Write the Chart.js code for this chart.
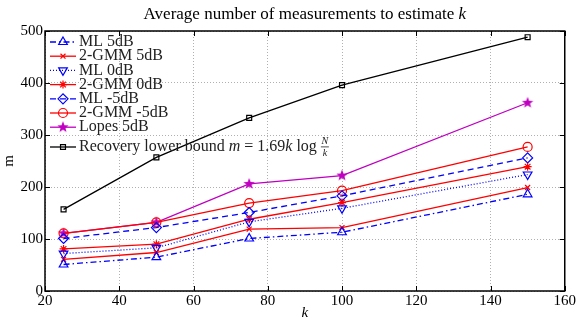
<!DOCTYPE html>
<html>
<head>
<meta charset="utf-8">
<script src="https://cdn.jsdelivr.net/npm/chart.js@4"></script>
<style>
  html, body { margin: 0; padding: 0; background: #fff; }
  #wrap { width: 577px; height: 324px; }
</style>
</head>
<body>
<div id="wrap"><canvas id="lineChart" width="577" height="324"></canvas></div>
<script>
var kValues = [25, 50, 75, 100, 150];
var ml5dB = [51, 65, 101, 113, 186];
var gmm5dB = [61, 74, 119, 122, 199];
var ml0dB = [72, 83, 133, 159, 224];
var gmm0dB = [81, 90, 138, 170, 239];
var mlMinus5dB = [101, 122, 151, 183, 256];
var gmmMinus5dB = [111, 132, 169, 193, 277];
var lopes5dB = [111, 132, 206, 222, 362];
var recoveryBound = [157, 257, 333, 396, 488];

var seriesNames = ['ML 5dB', '2-GMM 5dB', 'ML 0dB', '2-GMM 0dB', 'ML -5dB', '2-GMM -5dB', 'Lopes 5dB', 'Recovery lower bound'];
var xTicks = [20, 40, 60, 80, 100, 120, 140, 160];
var yTicks = [0, 100, 200, 300, 400, 500];

var SERIF = '"Liberation Serif", "DejaVu Serif", serif';
var BLUE = '#0000ff', RED = '#ff0000', MAGENTA = '#c000c0';

// filled five point star for the Lopes series
function makeStar(color, r) {
  var c = document.createElement('canvas');
  var s = Math.ceil(r * 2 + 2);
  c.width = s; c.height = s;
  var g = c.getContext('2d');
  g.fillStyle = color;
  g.beginPath();
  for (var i = 0; i < 10; i++) {
    var rad = i % 2 === 0 ? r : r * 0.42;
    var a = -Math.PI / 2 + i * Math.PI / 5;
    var px = s / 2 + rad * Math.cos(a), py = s / 2 + rad * Math.sin(a);
    if (i === 0) g.moveTo(px, py); else g.lineTo(px, py);
  }
  g.closePath();
  g.fill();
  return c;
}
var starImg = makeStar(MAGENTA, 6);

function pts(values) {
  return values.map(function (v, i) { return { x: kValues[i], y: v }; });
}

function series(label, values, color, style, dash, radius, rotation) {
  return {
    label: label,
    data: pts(values),
    borderColor: color,
    backgroundColor: 'transparent',
    pointBackgroundColor: 'transparent',
    pointBorderColor: color,
    pointStyle: style,
    pointRadius: radius,
    pointRotation: rotation || 0,
    pointBorderWidth: 1.2,
    borderWidth: 1.3,
    borderDash: dash,
    tension: 0
  };
}

var datasets = [
  series(seriesNames[0], ml5dB, BLUE, 'triangle', [6, 3, 1.5, 3], 5),
  series(seriesNames[1], gmm5dB, RED, 'crossRot', [], 3.5),
  series(seriesNames[2], ml0dB, BLUE, 'triangle', [1, 2], 5, 180),
  series(seriesNames[3], gmm0dB, RED, 'star', [], 4),
  series(seriesNames[4], mlMinus5dB, BLUE, 'rectRot', [6, 4], 5),
  series(seriesNames[5], gmmMinus5dB, RED, 'circle', [], 4.5),
  series(seriesNames[6], lopes5dB, MAGENTA, starImg, [], 6),
  series(seriesNames[7], recoveryBound, '#000000', 'rect', [], 3.5)
];

// title with italic k
var titlePlugin = {
  id: 'mTitle',
  afterDraw: function (chart) {
    var ctx = chart.ctx, a = chart.chartArea;
    var t1 = 'Average number of measurements to estimate ';
    ctx.save();
    ctx.fillStyle = '#000';
    ctx.textBaseline = 'alphabetic';
    ctx.font = '17px ' + SERIF;
    var w1 = ctx.measureText(t1).width;
    ctx.font = 'italic 17px ' + SERIF;
    var w2 = ctx.measureText('k').width;
    var x0 = (a.left + a.right) / 2 - (w1 + w2) / 2;
    ctx.font = '17px ' + SERIF;
    ctx.fillText(t1, x0, 19);
    ctx.font = 'italic 17px ' + SERIF;
    ctx.fillText('k', x0 + w1, 19);
    ctx.restore();
  }
};

// box round the plot and inward ticks on all sides
var framePlugin = {
  id: 'frame',
  afterDraw: function (chart) {
    var ctx = chart.ctx, a = chart.chartArea;
    var xs = chart.scales.x, ys = chart.scales.y;
    ctx.save();
    ctx.strokeStyle = '#000';
    ctx.lineWidth = 1;
    ctx.beginPath();
    xTicks.forEach(function (t) {
      var px = Math.round(xs.getPixelForValue(t)) + 0.5;
      ctx.moveTo(px, a.bottom); ctx.lineTo(px, a.bottom - 5);
      ctx.moveTo(px, a.top); ctx.lineTo(px, a.top + 5);
    });
    yTicks.forEach(function (t) {
      var py = Math.round(ys.getPixelForValue(t)) + 0.5;
      ctx.moveTo(a.left, py); ctx.lineTo(a.left + 5, py);
      ctx.moveTo(a.right, py); ctx.lineTo(a.right - 5, py);
    });
    ctx.stroke();
    ctx.lineWidth = 1.5;
    ctx.strokeRect(a.left, a.top, a.right - a.left, a.bottom - a.top);
    ctx.restore();
  }
};

// MATLAB style legend drawn inside the plot
var legendPlugin = {
  id: 'inLegend',
  afterDraw: function (chart) {
    var ctx = chart.ctx, a = chart.chartArea;
    var x0 = a.left + 5, x1 = a.left + 31, xm = (x0 + x1) / 2, tx = x1 + 3;
    ctx.save();
    chart.data.datasets.forEach(function (ds, i) {
      var y = a.top + 11 + i * 14.2;
      if (i === 7) y = a.top + 116;
      ctx.strokeStyle = ds.borderColor;
      ctx.lineWidth = ds.borderWidth;
      ctx.setLineDash(ds.borderDash);
      ctx.beginPath();
      ctx.moveTo(x0, y); ctx.lineTo(x1, y);
      ctx.stroke();
      ctx.setLineDash([]);
      ctx.strokeStyle = ds.pointBorderColor;
      ctx.fillStyle = 'transparent';
      ctx.lineWidth = ds.pointBorderWidth;
      Chart.helpers.drawPoint(ctx, {
        pointStyle: ds.pointStyle,
        radius: ds.pointRadius,
        rotation: ds.pointRotation,
        borderWidth: ds.pointBorderWidth
      }, xm, y);
      ctx.fillStyle = '#222';
      ctx.textBaseline = 'middle';
      ctx.font = '16px ' + SERIF;
      if (i < 7) {
        ctx.fillText(ds.label, tx, y);
      } else {
        var x = tx;
        var parts = [[ds.label + ' ', ''], ['m', 'italic '], [' = 1.69', ''], ['k', 'italic '], [' log ', '']];
        parts.forEach(function (p) {
          ctx.font = p[1] + '16px ' + SERIF;
          ctx.fillText(p[0], x, y);
          x += ctx.measureText(p[0]).width;
        });
        ctx.font = 'italic 10px ' + SERIF;
        ctx.textAlign = 'center';
        ctx.fillText('N', x + 4, y - 6);
        ctx.fillText('k', x + 4, y + 6);
        ctx.fillRect(x, y - 0.5, 8, 0.8);
        ctx.textAlign = 'left';
      }
    });
    ctx.restore();
  }
};

function BuildLineChart() {
  var ctx = document.getElementById('lineChart');
  return new Chart(ctx, {
    type: 'line',
    data: { datasets: datasets },
    options: {
      responsive: false,
      animation: false,
      layout: { padding: { top: 31, right: 12, left: 0, bottom: 0 } },
      plugins: {
        legend: { display: false },
        title: { display: false },
        tooltip: { enabled: false }
      },
      scales: {
        x: {
          type: 'linear',
          min: 20,
          max: 160,
          afterBuildTicks: function (s) { s.ticks = xTicks.map(function (v) { return { value: v }; }); },
          ticks: { color: '#000', font: { family: SERIF, size: 15 }, padding: 1, maxRotation: 0 },
          grid: { color: '#b0b0b0', lineWidth: 1, drawTicks: false },
          border: { display: false, dash: [1, 2] },
          title: { display: true, text: 'k', color: '#000', font: { family: SERIF, size: 15, style: 'italic' }, padding: { top: 0, bottom: 2 } },
          afterFit: function (s) { s.height = 33; }
        },
        y: {
          min: 0,
          max: 500,
          afterBuildTicks: function (s) { s.ticks = yTicks.map(function (v) { return { value: v }; }); },
          ticks: { color: '#000', font: { family: SERIF, size: 15 }, padding: 2 },
          grid: { color: '#b0b0b0', lineWidth: 1, drawTicks: false },
          border: { display: false, dash: [1, 2] },
          title: { display: true, text: 'm', color: '#000', font: { family: SERIF, size: 15 }, padding: { top: 0, bottom: 0 } },
          afterFit: function (s) { s.width = 45; }
        }
      }
    },
    plugins: [titlePlugin, framePlugin, legendPlugin]
  });
}

BuildLineChart();
</script>
</body>
</html>
